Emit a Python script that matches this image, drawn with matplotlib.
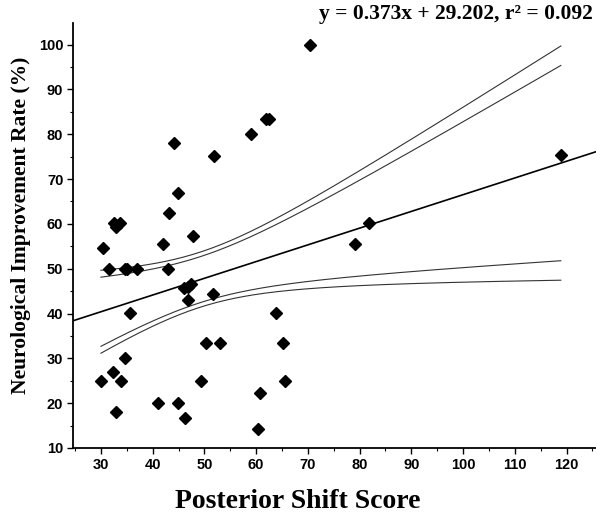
#!/usr/bin/env python
# scatter of improvement rate vs posterior shift, with regression line and confidence bands
import numpy as np
import matplotlib.pyplot as plt
from matplotlib.ticker import MultipleLocator

shift_score = [70.4, 61.9, 62.5, 59.1, 44.1, 51.9, 44.8, 43.2, 47.7, 42.0,
               30.4, 32.5, 33.6, 32.9, 31.5, 34.6, 35.0, 36.9, 42.9, 46.1,
               46.9, 47.5, 46.9, 51.6, 35.6, 63.8, 50.3, 53.1, 65.2, 34.6,
               32.4, 30.0, 33.9, 49.4, 65.6, 60.7, 41.1, 44.9, 33.0, 46.2,
               60.4, 118.9, 81.9, 79.1]
improvement = [100.0, 83.3, 83.3, 80.1, 78.0, 75.2, 66.9, 62.5, 57.3, 55.6,
               54.6, 60.2, 60.2, 59.3, 50.0, 50.0, 50.0, 50.0, 50.0, 45.6,
               46.0, 46.5, 43.0, 44.4, 40.1, 40.1, 33.5, 33.5, 33.5, 30.0,
               27.0, 25.0, 25.0, 25.0, 25.0, 22.2, 20.1, 20.1, 18.1, 16.6,
               14.2, 75.4, 60.3, 55.6]

slope, intercept, r2 = 0.373, 29.202, 0.092
t_levels = [2.015, 1.680]  # 95% and 90%, df ~ n-2


def fit_bands(x, y, xs, t):
    x = np.asarray(x)
    y = np.asarray(y)
    n = len(x)
    resid = y - (intercept + slope * x)
    s = np.sqrt(np.sum(resid ** 2) / (n - 2))
    sxx = np.sum((x - x.mean()) ** 2)
    half = t * s * np.sqrt(1.0 / n + (xs - x.mean()) ** 2 / sxx)
    fit = intercept + slope * xs
    return fit - half, fit + half


fig = plt.figure(figsize=(5.96, 5.16), dpi=100)
ax = fig.add_axes([0.1225, 0.1318, 0.8775, 0.8236])

ax.set_xlim(24.6, 125.7)
ax.set_ylim(10, 104.8)

xline = np.array(ax.get_xlim())
ax.plot(xline, intercept + slope * xline, color='black', lw=1.2, zorder=2)

xs = np.linspace(min(shift_score), max(shift_score), 200)
for t in t_levels:
    lo, hi = fit_bands(shift_score, improvement, xs, t)
    ax.plot(xs, lo, color='#333333', lw=0.8, zorder=2)
    ax.plot(xs, hi, color='#333333', lw=0.8, zorder=2)

ax.plot(shift_score, improvement, 'D', color='black', ms=6, zorder=3)

for side in ('top', 'right'):
    ax.spines[side].set_visible(False)
for side in ('left', 'bottom'):
    ax.spines[side].set_linewidth(1.3)

ax.set_xticks(range(30, 121, 10))
ax.set_yticks(range(10, 101, 10))
ax.xaxis.set_minor_locator(MultipleLocator(5))
ax.yaxis.set_minor_locator(MultipleLocator(5))
ax.tick_params(which='major', length=4, width=1, direction='out', pad=3)
ax.tick_params(which='minor', length=2, width=0.8, direction='out')
for lab in ax.get_xticklabels() + ax.get_yticklabels():
    lab.set_fontfamily('Liberation Sans')
    lab.set_fontweight('bold')
    lab.set_fontsize(10.5)

ax.set_ylabel('Neurological Improvement Rate (%)', family='Liberation Serif',
              fontweight='bold', fontsize=15.5)
ax.yaxis.set_label_coords(-0.08, 0.525)

fig.text(0.499, 0.015, 'Posterior Shift Score', family='Liberation Serif',
         fontweight='bold', fontsize=20, ha='center', va='baseline')

fig.text(0.994, 0.972, 'y = %.3fx + %.3f, r\u00b2 = %.3f' % (slope, intercept, r2),
         family='Liberation Serif', fontweight='bold', fontsize=15.5,
         ha='right', va='center')

fig.savefig('out.png', dpi=100)
